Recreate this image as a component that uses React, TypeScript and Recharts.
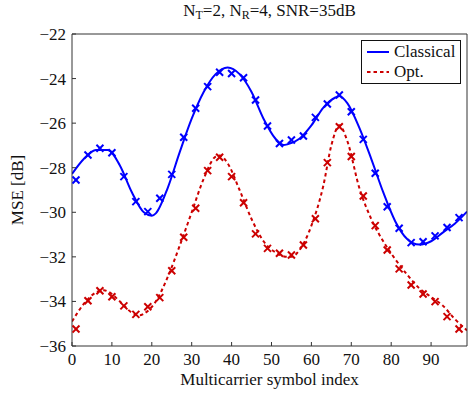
import { ComposedChart, Line, Scatter, XAxis, YAxis } from 'recharts';

// marker positions (symbol index)
const MARKER_X = [1, 4, 7, 10, 13, 16, 19, 22, 25, 28, 31, 34, 37, 40, 43, 46, 49, 52, 55, 58, 61, 64, 67, 70, 73, 76, 79, 82, 85, 88, 91, 94, 97];

const CLASSICAL_MARKERS = [
  -28.55, -27.43, -27.13, -27.33, -28.4, -29.52, -29.97, -29.37, -28.3, -26.63, -25.33,
  -24.36, -23.72, -23.77, -23.96, -24.96, -26.13, -26.91, -26.76, -26.58, -25.74, -25.14,
  -24.74, -25.49, -26.73, -28.25, -29.75, -30.72, -31.36, -31.32, -31.06, -30.68, -30.24,
];

const OPT_MARKERS = [
  -35.24, -33.97, -33.52, -33.79, -34.2, -34.58, -34.24, -33.83, -32.62, -31.12, -29.82,
  -28.13, -27.53, -28.4, -29.57, -30.97, -31.62, -31.84, -31.92, -31.47, -30.29, -27.77,
  -26.16, -27.5, -29.27, -30.6, -31.69, -32.54, -33.26, -33.67, -34.01, -34.68, -35.24,
];

// smooth fitted curves
const CLASSICAL_CURVE_X = [0, 3, 6, 9, 12, 15, 18, 20, 21, 24, 27, 30, 33, 36, 39, 42, 45, 48, 51, 53, 54, 57, 60, 63, 66, 67, 69, 72, 75, 78, 81, 84, 87, 90, 93, 96, 99];
const CLASSICAL_CURVE = [
  -28.28, -27.6, -27.2, -27.2, -27.9, -29.1, -30.0, -30.15, -30.05, -28.9, -27.3, -25.8,
  -24.6, -23.8, -23.5, -23.8, -24.6, -25.8, -26.7, -26.98, -26.95, -26.7, -26.1, -25.3,
  -24.85, -24.78, -25.1, -26.2, -27.6, -29.1, -30.4, -31.2, -31.45, -31.3, -30.9, -30.5, -29.97,
];

const OPT_CURVE_X = [0, 3, 6, 8, 9, 12, 15, 17, 18, 21, 24, 27, 30, 33, 36, 37, 39, 42, 45, 48, 51, 54, 55, 57, 60, 63, 65, 67, 69, 72, 75, 78, 81, 84, 87, 90, 93, 96, 99];
const OPT_CURVE = [
  -34.9, -34.1, -33.6, -33.5, -33.55, -34.0, -34.5, -34.62, -34.55, -34.0, -32.9, -31.5,
  -30.0, -28.5, -27.5, -27.45, -27.8, -29.0, -30.3, -31.3, -31.8, -32.0, -32.0, -31.7,
  -30.6, -28.8, -27.0, -26.1, -26.8, -28.9, -30.3, -31.3, -32.1, -32.8, -33.4, -33.8,
  -34.2, -34.8, -35.3,
];

const X_TICKS = [0, 10, 20, 30, 40, 50, 60, 70, 80, 90];
const Y_TICKS = [-36, -34, -32, -30, -28, -26, -24, -22];

const BLUE = '#0000ff';
const RED = '#cc0000';
const AXIS = '#333';
const FONT = 'Liberation Serif, DejaVu Serif, serif';
const FS = 17;

const zip = (xs: number[], ys: number[]) => xs.map((x, i) => ({ x, y: ys[i] }));

const classicalCurve = zip(CLASSICAL_CURVE_X, CLASSICAL_CURVE);
const optCurve = zip(OPT_CURVE_X, OPT_CURVE);
const classicalPts = zip(MARKER_X, CLASSICAL_MARKERS);
const optPts = zip(MARKER_X, OPT_MARKERS);

const minus = (v: number) => String(v).replace('-', '\u2212');

const Cross = (color: string) => (props: any) => {
  const { cx, cy } = props;
  const r = 3.5;
  return (
    <g stroke={color} strokeWidth={2}>
      <line x1={cx - r} y1={cy - r} x2={cx + r} y2={cy + r} />
      <line x1={cx - r} y1={cy + r} x2={cx + r} y2={cy - r} />
    </g>
  );
};

const EmptyTick = () => <g />;

const tickStyle = { fontFamily: FONT, fontSize: FS, fill: '#111' };

export default function App() {
  return (
    <div style={{ position: 'absolute', left: 0, top: 0, width: 468, height: 396, fontFamily: FONT, color: '#111' }}>
      <div style={{ position: 'absolute', top: 1, left: 72, width: 395, textAlign: 'center', fontSize: FS, lineHeight: '20px' }}>
        N<sub style={{ fontSize: 12, verticalAlign: -3 }}>T</sub>=2, N<sub style={{ fontSize: 12, verticalAlign: -3 }}>R</sub>=4, SNR=35dB
      </div>
      <ComposedChart width={468} height={396} margin={{ top: 33, right: 0, bottom: 0, left: 0 }} style={{ fontFamily: FONT }}>
        <XAxis
          xAxisId={0}
          dataKey="x"
          type="number"
          domain={[0, 99]}
          ticks={X_TICKS}
          allowDataOverflow
          height={50}
          stroke={AXIS}
          tickSize={-4}
          tickMargin={11}
          tick={tickStyle}
        />
        <XAxis
          xAxisId="top"
          orientation="top"
          type="number"
          domain={[0, 99]}
          ticks={X_TICKS}
          height={1}
          stroke={AXIS}
          tickSize={-4}
          tick={EmptyTick}
        />
        <YAxis
          yAxisId={0}
          dataKey="y"
          type="number"
          domain={[-36, -22]}
          ticks={Y_TICKS}
          allowDataOverflow
          width={72}
          stroke={AXIS}
          tickSize={-4}
          tickMargin={10}
          tickFormatter={minus}
          tick={tickStyle}
        />
        <YAxis
          yAxisId="right"
          orientation="right"
          type="number"
          domain={[-36, -22]}
          ticks={Y_TICKS}
          width={1}
          stroke={AXIS}
          tickSize={-4}
          tick={EmptyTick}
        />
        <Line data={classicalCurve} dataKey="y" type="monotoneX" stroke={BLUE} strokeWidth={2} dot={false} isAnimationActive={false} />
        <Line data={optCurve} dataKey="y" type="monotoneX" stroke={RED} strokeWidth={2} strokeDasharray="3.5 3" dot={false} isAnimationActive={false} />
        <Scatter data={classicalPts} dataKey="y" shape={Cross(BLUE)} isAnimationActive={false} />
        <Scatter data={optPts} dataKey="y" shape={Cross(RED)} isAnimationActive={false} />
      </ComposedChart>
      <div style={{ position: 'absolute', left: 18, top: 190, width: 0, height: 0 }}>
        <div style={{ position: 'absolute', left: 0, top: 0, transform: 'translate(-50%, -50%) rotate(-90deg)', whiteSpace: 'nowrap', fontSize: FS }}>
          MSE [dB]
        </div>
      </div>
      <div style={{ position: 'absolute', top: 370, left: 72, width: 395, textAlign: 'center', fontSize: FS, lineHeight: '20px' }}>
        Multicarrier symbol index
      </div>
      <div
        style={{
          position: 'absolute',
          left: 361,
          top: 40,
          width: 100,
          height: 44,
          border: '1px solid #111',
          background: '#fff',
          fontSize: FS,
          lineHeight: '20px',
          padding: '1px 0',
          boxSizing: 'border-box',
        }}
      >
        {[
          { name: 'Classical', color: BLUE, dash: undefined },
          { name: 'Opt.', color: RED, dash: '3.5 3' },
        ].map((item) => (
          <div key={item.name} style={{ display: 'flex', alignItems: 'center', height: 20 }}>
            <svg width={24} height={10} style={{ marginLeft: 5, marginRight: 3 }}>
              <line x1={0} y1={5} x2={22} y2={5} stroke={item.color} strokeWidth={2} strokeDasharray={item.dash} />
            </svg>
            <span>{item.name}</span>
          </div>
        ))}
      </div>
    </div>
  );
}
